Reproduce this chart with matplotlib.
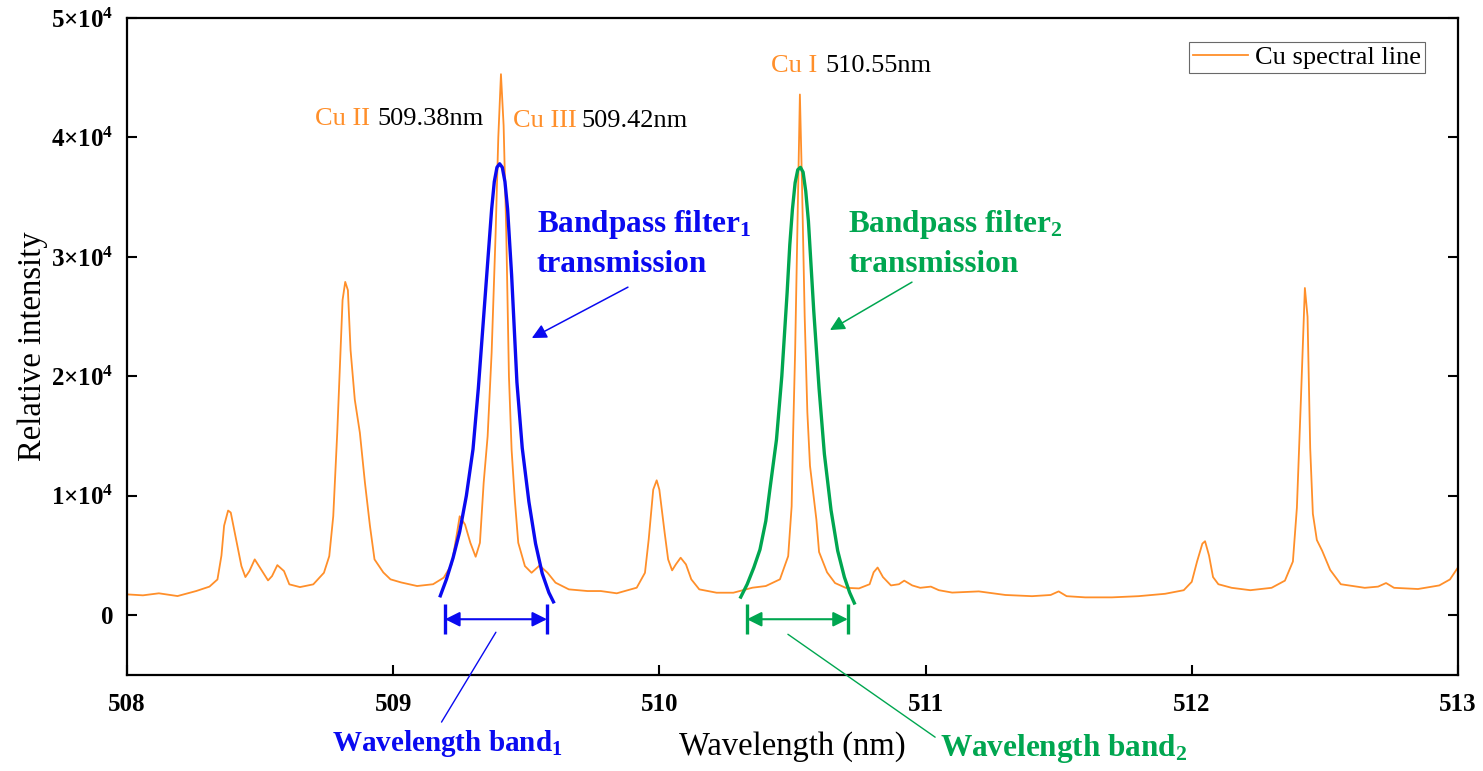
import matplotlib
matplotlib.use("Agg")
import matplotlib.pyplot as plt
import numpy as np

plt.rcParams['font.family'] = ['Liberation Serif', 'DejaVu Serif']
plt.rcParams['mathtext.fontset'] = 'custom'
plt.rcParams['mathtext.rm'] = 'Liberation Serif'
plt.rcParams['mathtext.bf'] = 'Liberation Serif:bold'
plt.rcParams['mathtext.it'] = 'Liberation Serif:italic'

# Cu spectrum (nm, counts)
wl = [508.00, 508.06, 508.12, 508.19, 508.26, 508.31, 508.34, 508.355, 508.365, 508.38,
      508.39, 508.41, 508.43, 508.445, 508.46, 508.48, 508.50, 508.53, 508.545, 508.565,
      508.59, 508.61, 508.65, 508.70, 508.74, 508.76, 508.775, 508.79, 508.80, 508.81,
      508.82, 508.83, 508.84, 508.856, 508.875, 508.894, 508.913, 508.93, 508.963, 508.99,
      509.03, 509.09, 509.15, 509.19, 509.22, 509.24, 509.25, 509.27, 509.29, 509.31,
      509.326, 509.34, 509.355, 509.37, 509.385, 509.395, 509.405, 509.415, 509.425, 509.435,
      509.445, 509.457, 509.47, 509.495, 509.52, 509.55, 509.58, 509.61, 509.66, 509.73,
      509.78, 509.84, 509.915, 509.946, 509.96, 509.977, 509.99, 510.00, 510.02, 510.033,
      510.048, 510.062, 510.08, 510.10, 510.12, 510.15, 510.215, 510.278, 510.35, 510.40,
      510.453, 510.484, 510.497, 510.502, 510.51, 510.52, 510.528, 510.536, 510.546, 510.556,
      510.566, 510.59, 510.60, 510.63, 510.66, 510.70, 510.75, 510.79, 510.805, 510.82,
      510.84, 510.87, 510.90, 510.92, 510.95, 510.98, 511.02, 511.05, 511.10, 511.20,
      511.30, 511.40, 511.47, 511.50, 511.53, 511.60, 511.70, 511.80, 511.90, 511.97,
      512.00, 512.02, 512.04, 512.05, 512.065, 512.08, 512.10, 512.15, 512.22, 512.30,
      512.35, 512.38, 512.395, 512.41, 512.425, 512.435, 512.445, 512.455, 512.47, 512.49,
      512.52, 512.56, 512.65, 512.70, 512.73, 512.76, 512.85, 512.93, 512.97, 513.00]
intensity = [1750, 1670, 1840, 1610, 2030, 2400, 3000, 5000, 7500, 8770,
             8600, 6350, 4120, 3200, 3700, 4680, 3980, 2920, 3280, 4200,
             3700, 2590, 2360, 2590, 3560, 4950, 8290, 15280, 20820, 26390,
             27910, 27220, 22210, 18040, 15280, 11110, 7460, 4680, 3590, 3010,
             2750, 2450, 2600, 3150, 4260, 6900, 8290, 7600, 6070, 4900,
             6070, 11080, 15000, 22000, 32000, 40000, 45300, 41000, 32000, 20000,
             13860, 9690, 6070, 4120, 3560, 4170, 3560, 2730, 2170, 2030,
             2030, 1840, 2310, 3560, 6350, 10520, 11300, 10520, 6900, 4680,
             3760, 4260, 4820, 4260, 3010, 2170, 1890, 1890, 2310, 2450,
             3010, 4950, 9130, 14700, 22000, 34000, 43600, 36000, 25000, 17000,
             12500, 8000, 5300, 3600, 2700, 2300, 2250, 2600, 3600, 4000,
             3200, 2500, 2600, 2900, 2500, 2300, 2400, 2100, 1900, 2000,
             1700, 1600, 1700, 2000, 1600, 1500, 1500, 1600, 1800, 2100,
             2800, 4500, 6000, 6200, 5000, 3200, 2600, 2300, 2100, 2300,
             2900, 4500, 9000, 18000, 27400, 25000, 14000, 8500, 6300, 5400,
             3800, 2600, 2300, 2400, 2700, 2300, 2200, 2500, 3000, 4000]

# bandpass filter transmission curves (drawn on the intensity scale)
filter1_wl = [509.175, 509.20, 509.225, 509.25, 509.275, 509.30, 509.32, 509.34, 509.36, 509.37,
              509.38, 509.39, 509.40, 509.41, 509.42, 509.43, 509.445, 509.465, 509.485, 509.51,
              509.535, 509.56, 509.585, 509.605]
filter1_t = [1500, 3000, 4800, 7000, 10000, 13900, 19000, 25000, 31000, 34000,
             36300, 37500, 37800, 37500, 36300, 34000, 28500, 19500, 14000, 9500,
             6000, 3500, 1900, 1000]
filter2_wl = [510.303, 510.33, 510.355, 510.378, 510.40, 510.415, 510.44, 510.46, 510.48, 510.49,
              510.50, 510.51, 510.52, 510.53, 510.54, 510.55, 510.56, 510.58, 510.60, 510.62,
              510.645, 510.67, 510.695, 510.715, 510.735]
filter2_t = [1400, 2600, 4000, 5500, 7900, 10500, 14700, 20000, 27000, 31000,
             34000, 36200, 37300, 37500, 37100, 35500, 33000, 25500, 19000, 13500,
             8800, 5400, 3200, 1900, 900]

band1 = [509.195, 509.578]
band2 = [510.329, 510.708]

xticks = [508, 509, 510, 511, 512, 513]
yticks = [0, 10000, 20000, 30000, 40000, 50000]
ytick_labels = ["0", r"1×10$^\mathbf{4}$", r"2×10$^\mathbf{4}$", r"3×10$^\mathbf{4}$",
                r"4×10$^\mathbf{4}$", r"5×10$^\mathbf{4}$"]

orange = "#FF8F2A"
blue = "#0A0AF0"
green = "#00A650"

fig = plt.figure(figsize=(14.83, 7.71), dpi=100)
ax = fig.add_axes([0.0856, 0.1245, 0.8975, 0.8521])

ax.plot(wl, intensity, color=orange, lw=1.3, label="Cu spectral line")
ax.plot(filter1_wl, filter1_t, color=blue, lw=2.4, solid_capstyle='butt')
ax.plot(filter2_wl, filter2_t, color=green, lw=2.4, solid_capstyle='butt')

ax.set_xlim(508, 513)
ax.set_ylim(-5000, 50000)
ax.set_xticks(xticks)
ax.set_xticklabels([str(t) for t in xticks], fontweight='bold', fontsize=18)
ax.set_yticks(yticks)
ax.set_yticklabels(ytick_labels, fontweight='bold', fontsize=18)
ax.tick_params(direction='in', length=7, width=1.5, right=True, pad=10)
ax.tick_params(axis='x', pad=13)
for s in ax.spines.values():
    s.set_linewidth(1.6)

ax.set_xlabel("Wavelength (nm)", fontsize=23.5)
ax.xaxis.set_label_coords(0.5, -0.085)
ax.set_ylabel("Relative intensity", fontsize=23.5)
ax.yaxis.set_label_coords(-0.059, 0.5)

leg = ax.legend(loc='upper right', bbox_to_anchor=(0.975, 0.9635), fontsize=19,
                frameon=True, fancybox=False, borderpad=0.15, borderaxespad=0,
                handlelength=2.1, handletextpad=0.25)
leg.get_frame().set_edgecolor('#444444')
leg.get_frame().set_linewidth(0.8)

# wavelength band brackets
ybr = -330
for band, col in [(band1, blue), (band2, green)]:
    ax.annotate('', xy=(band[1], ybr), xytext=(band[0], ybr),
                arrowprops=dict(arrowstyle='<|-|>', color=col, lw=1.5,
                                mutation_scale=22, shrinkA=0, shrinkB=0))
    ax.vlines(band, -1600, 950, color=col, lw=2.4)

# peak labels
ax.text(508.706, 41580, "Cu II", color=orange, fontsize=19, va='center')
ax.text(508.939, 41580, "509.38nm", color='black', fontsize=19, va='center')
ax.text(509.45, 41420, "Cu III", color=orange, fontsize=19, va='center')
ax.text(509.706, 41420, "509.42nm", color='black', fontsize=19, va='center')
ax.text(510.419, 46010, "Cu I", color=orange, fontsize=19, va='center')
ax.text(510.622, 46010, "510.55nm", color='black', fontsize=19, va='center')

# filter labels with arrows
ax.text(509.54, 31100, "Bandpass filter$_\\mathbf{1}$\ntransmission", color=blue,
        fontsize=22.5, fontweight='bold', ha='left', va='center', multialignment='left',
        linespacing=1.4)
ax.annotate('', xy=(509.521, 23210), xytext=(509.882, 27470),
            arrowprops=dict(arrowstyle='-|>', color=blue, lw=1.1, mutation_scale=22,
                            shrinkA=0, shrinkB=0))
ax.text(510.709, 31100, "Bandpass filter$_\\mathbf{2}$\ntransmission", color=green,
        fontsize=22.5, fontweight='bold', ha='left', va='center', multialignment='left',
        linespacing=1.4)
ax.annotate('', xy=(510.641, 23880), xytext=(510.949, 27890),
            arrowprops=dict(arrowstyle='-|>', color=green, lw=1.1, mutation_scale=22,
                            shrinkA=0, shrinkB=0))

# band labels with leader lines
ax.annotate("Wavelength band$_\\mathbf{1}$", xy=(509.386, -1420), xytext=(509.202, -10770),
            color=blue, fontsize=21, fontweight='bold', ha='center', va='center',
            annotation_clip=False,
            arrowprops=dict(arrowstyle='-', color=blue, lw=1.0, shrinkA=3, shrinkB=0,
                            relpos=(0.46, 1.0)))
ax.annotate("Wavelength band$_\\mathbf{2}$", xy=(510.483, -1590), xytext=(511.52, -11190),
            color=green, fontsize=22.5, fontweight='bold', ha='center', va='center',
            annotation_clip=False,
            arrowprops=dict(arrowstyle='-', color=green, lw=1.0, shrinkA=2, shrinkB=0,
                            relpos=(0.0, 0.75)))

plt.savefig("out.png", dpi=100)
